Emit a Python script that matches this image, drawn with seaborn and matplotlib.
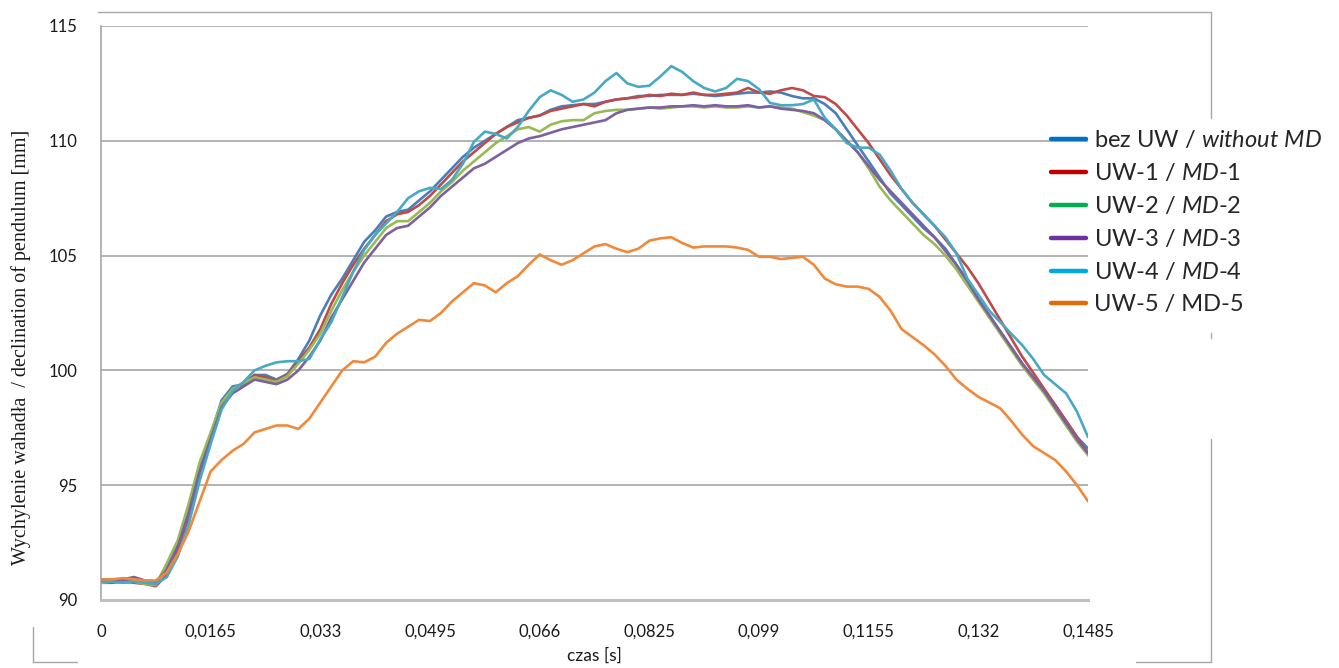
import numpy as np
import pandas as pd
import matplotlib
matplotlib.use("Agg")
import matplotlib.pyplot as plt
import seaborn as sns
from matplotlib.lines import Line2D

# ---------------- data ----------------
time_s = np.round(np.arange(91) * 0.00165, 5)

bez_uw = [90.8, 90.8, 90.85, 90.8, 90.75, 90.7, 91.5, 92.4, 93.8, 95.8,
          97.2, 98.7, 99.3, 99.4, 99.8, 99.8, 99.6, 99.85, 100.5, 101.3,
          102.4, 103.3, 104.0, 104.8, 105.6, 106.1, 106.7, 106.9, 107.0, 107.4,
          107.8, 108.3, 108.8, 109.3, 109.7, 110.0, 110.3, 110.6, 110.9, 111.0,
          111.1, 111.35, 111.5, 111.55, 111.6, 111.6, 111.7, 111.8, 111.85, 111.95,
          111.95, 112.0, 112.0, 112.0, 112.05, 112.0, 111.95, 112.0, 112.05, 112.1,
          112.1, 112.15, 112.1, 111.95, 111.85, 111.85, 111.6, 111.2, 110.5, 109.8,
          109.1, 108.4, 107.7, 107.2, 106.7, 106.2, 105.8, 105.3, 104.6, 103.9,
          103.1, 102.4, 101.7, 101.0, 100.3, 99.7, 99.1, 98.5, 97.8, 97.1, 96.6]

uw1 = [90.75, 90.75, 90.8, 90.75, 90.7, 90.6, 91.1, 92.2, 93.6, 95.5,
       97.0, 98.5, 99.2, 99.4, 99.8, 99.7, 99.55, 99.8, 100.4, 101.0,
       101.8, 102.9, 103.8, 104.6, 105.3, 105.9, 106.5, 106.8, 106.9, 107.2,
       107.6, 108.1, 108.6, 109.1, 109.5, 109.9, 110.3, 110.6, 110.8, 111.0,
       111.1, 111.3, 111.4, 111.5, 111.6, 111.5, 111.7, 111.8, 111.85, 111.9,
       112.0, 111.95, 112.05, 112.0, 112.1, 112.0, 112.0, 112.05, 112.1, 112.3,
       112.1, 112.05, 112.2, 112.3, 112.2, 111.95, 111.9, 111.6, 111.1, 110.5,
       109.9, 109.2, 108.5, 107.9, 107.3, 106.8, 106.3, 105.7, 105.1, 104.5,
       103.8, 103.0, 102.2, 101.4, 100.6, 99.9, 99.2, 98.5, 97.8, 97.1, 96.4]

uw2 = [90.75, 90.8, 90.75, 90.8, 90.7, 90.65, 91.6, 92.6, 94.2, 96.0,
       97.3, 98.6, 99.2, 99.45, 99.7, 99.6, 99.5, 99.75, 100.3, 100.9,
       101.6, 102.6, 103.5, 104.3, 105.0, 105.6, 106.2, 106.5, 106.5, 106.9,
       107.3, 107.8, 108.2, 108.7, 109.1, 109.5, 109.9, 110.2, 110.5, 110.6,
       110.4, 110.7, 110.85, 110.9, 110.9, 111.2, 111.3, 111.35, 111.35, 111.4,
       111.45, 111.4, 111.45, 111.5, 111.5, 111.45, 111.5, 111.45, 111.45, 111.5,
       111.45, 111.5, 111.45, 111.4, 111.25, 111.1, 110.9, 110.5, 110.0, 109.5,
       108.8, 108.0, 107.4, 106.9, 106.4, 105.9, 105.5, 105.0, 104.4, 103.7,
       103.0, 102.3, 101.6, 100.9, 100.2, 99.6, 99.0, 98.3, 97.6, 96.9, 96.3]

uw3 = [90.9, 90.85, 90.9, 91.0, 90.85, 90.8, 91.3, 92.3, 93.8, 95.6,
       97.0, 98.4, 99.0, 99.3, 99.6, 99.5, 99.4, 99.6, 100.0, 100.6,
       101.3, 102.3, 103.1, 103.9, 104.7, 105.3, 105.9, 106.2, 106.3, 106.7,
       107.1, 107.6, 108.0, 108.4, 108.8, 109.0, 109.3, 109.6, 109.9, 110.1,
       110.2, 110.35, 110.5, 110.6, 110.7, 110.8, 110.9, 111.2, 111.35, 111.4,
       111.45, 111.45, 111.5, 111.5, 111.55, 111.5, 111.55, 111.5, 111.5, 111.55,
       111.45, 111.5, 111.4, 111.35, 111.3, 111.2, 110.9, 110.5, 110.0, 109.5,
       108.9, 108.3, 107.8, 107.3, 106.8, 106.3, 105.8, 105.2, 104.6, 103.9,
       103.1, 102.4, 101.7, 101.0, 100.3, 99.7, 99.1, 98.4, 97.7, 97.0, 96.4]

uw4 = [90.8, 90.8, 90.75, 90.8, 90.75, 90.7, 91.0, 91.9, 93.3, 95.2,
       96.8, 98.3, 99.1, 99.5, 100.0, 100.2, 100.35, 100.4, 100.4, 100.5,
       101.35, 102.1, 103.2, 104.3, 105.25, 105.9, 106.4, 106.9, 107.5, 107.8,
       107.95, 107.9, 108.3, 109.0, 109.95, 110.4, 110.3, 110.1, 110.6, 111.3,
       111.9, 112.2, 112.0, 111.7, 111.8, 112.1, 112.6, 112.95, 112.5, 112.35,
       112.4, 112.8, 113.25, 113.0, 112.6, 112.3, 112.15, 112.3, 112.7, 112.6,
       112.25, 111.65, 111.55, 111.55, 111.6, 111.8, 111.0, 110.5, 109.9, 109.7,
       109.7, 109.4, 108.7, 107.9, 107.3, 106.8, 106.3, 105.8, 105.1, 104.0,
       103.3, 102.6, 102.1, 101.6, 101.1, 100.5, 99.8, 99.4, 99.0, 98.2, 97.1]

uw5 = [90.9, 90.9, 90.95, 90.9, 90.85, 90.85, 91.2, 92.0, 93.0, 94.3,
       95.6, 96.1, 96.5, 96.8, 97.3, 97.45, 97.6, 97.6, 97.45, 97.9,
       98.6, 99.3, 100.0, 100.4, 100.35, 100.6, 101.2, 101.6, 101.9, 102.2,
       102.15, 102.5, 103.0, 103.4, 103.8, 103.7, 103.4, 103.8, 104.1, 104.6,
       105.05, 104.8, 104.6, 104.8, 105.1, 105.4, 105.5, 105.3, 105.15, 105.3,
       105.65, 105.75, 105.8, 105.55, 105.35, 105.4, 105.4, 105.4, 105.35, 105.25,
       104.95, 104.95, 104.85, 104.9, 104.95, 104.6, 104.0, 103.75, 103.65, 103.65,
       103.55, 103.2, 102.6, 101.8, 101.45, 101.1, 100.7, 100.2, 99.6, 99.2,
       98.85, 98.6, 98.35, 97.8, 97.2, 96.7, 96.4, 96.1, 95.6, 95.0, 94.3]

series_names = ["bez UW", "UW-1", "UW-2", "UW-3", "UW-4", "UW-5"]
series_values = [bez_uw, uw1, uw2, uw3, uw4, uw5]
legend_labels = [r"bez UW / $\mathit{without\ MD}$",
                 r"UW-1 / $\mathit{MD}$-$\mathit{1}$",
                 r"UW-2 / $\mathit{MD}$-$\mathit{2}$",
                 r"UW-3 / $\mathit{MD}$-$\mathit{3}$",
                 r"UW-4 / $\mathit{MD}$-$\mathit{4}$",
                 "UW-5 / MD-5"]
x_ticks = [0, 0.0165, 0.033, 0.0495, 0.066, 0.0825, 0.099, 0.1155, 0.132, 0.1485]
x_tick_labels = ["0", "0,0165", "0,033", "0,0495", "0,066", "0,0825", "0,099",
                 "0,1155", "0,132", "0,1485"]
y_ticks = [90, 95, 100, 105, 110, 115]

# ---------------- style ----------------
line_colors = ["#4A7EBB", "#BE4B48", "#98B954", "#7D60A0", "#46AAC5", "#F08A3A"]
legend_colors = ["#0070C0", "#C00000", "#00B050", "#7030A0", "#00A8E0", "#E36C09"]

sns.set_theme(style="white")
plt.rcParams["font.family"] = ["Lato", "DejaVu Sans"]
plt.rcParams["mathtext.fontset"] = "custom"
plt.rcParams["mathtext.it"] = "Lato:italic"
plt.rcParams["mathtext.rm"] = "Lato"

df = pd.concat([pd.DataFrame({"t": time_s, "value": v, "series": n})
                for n, v in zip(series_names, series_values)], ignore_index=True)

W, H = 1339, 668
fig = plt.figure(figsize=(W / 100, H / 100), dpi=100)
ax = fig.add_axes([101 / W, 1 - 600 / H, (1088 - 101) / W, (600 - 26) / H])

sns.lineplot(data=df, x="t", y="value", hue="series", hue_order=series_names,
             palette=line_colors, estimator=None, errorbar=None, legend=False,
             linewidth=1.9, ax=ax, zorder=3)

ax.set_xlim(0, 0.1485)
ax.set_ylim(90, 115)
ax.set_xticks(x_ticks)
ax.set_xticklabels(x_tick_labels, fontsize=12, color="#1a1a1a")
ax.set_yticks(y_ticks)
ax.set_yticklabels([str(v) for v in y_ticks], fontsize=12, color="#1a1a1a")
ax.tick_params(axis="x", length=0, pad=17)
ax.tick_params(axis="y", length=4, width=1.2, color="#A6A6A6", direction="out", pad=13)
ax.yaxis.grid(True, color="#A6A6A6", linewidth=1.2)
ax.xaxis.grid(False)
ax.set_axisbelow(True)
for s in ["top", "right"]:
    ax.spines[s].set_visible(False)
ax.spines["left"].set_color("#A6A6A6")
ax.spines["left"].set_linewidth(1.2)
ax.spines["bottom"].set_color("#BFBFBF")
ax.spines["bottom"].set_linewidth(2.2)

ax.set_xlabel("czas [s]", fontsize=12.5, color="#1a1a1a", labelpad=2)
ax.set_ylabel("Wychylenie wahadła  / declination of pendulum [mm]",
              fontsize=14.5, family=["Liberation Serif", "DejaVu Serif"],
              color="#1a1a1a", labelpad=20)
ax.yaxis.set_label_coords(-0.071, 0.44)
ax.xaxis.set_label_coords(0.5, -0.083)

handles = [Line2D([0], [0], color=c, linewidth=3.2) for c in legend_colors]
leg = fig.legend(handles, legend_labels, loc="upper left",
                 bbox_to_anchor=(1051 / W, 1 - 129 / H), frameon=False,
                 fontsize=17, handlelength=1.5, handletextpad=0.33,
                 labelspacing=0.47, borderpad=0, borderaxespad=0)

# outer frame fragments
def frame(x0, y0, x1, y1):
    fig.add_artist(Line2D([x0 / W, x1 / W], [1 - y0 / H, 1 - y1 / H],
                          transform=fig.transFigure, color="#A6A6A6", linewidth=1.0))

frame(98, 12, 1211, 12)
frame(1211, 12, 1211, 118)
frame(1211, 333, 1211, 338)
frame(1211, 439, 1211, 662)
frame(1136, 662, 1211, 662)
frame(33, 627, 33, 662)
frame(33, 662, 77, 662)

fig.savefig("out.png", dpi=100)
